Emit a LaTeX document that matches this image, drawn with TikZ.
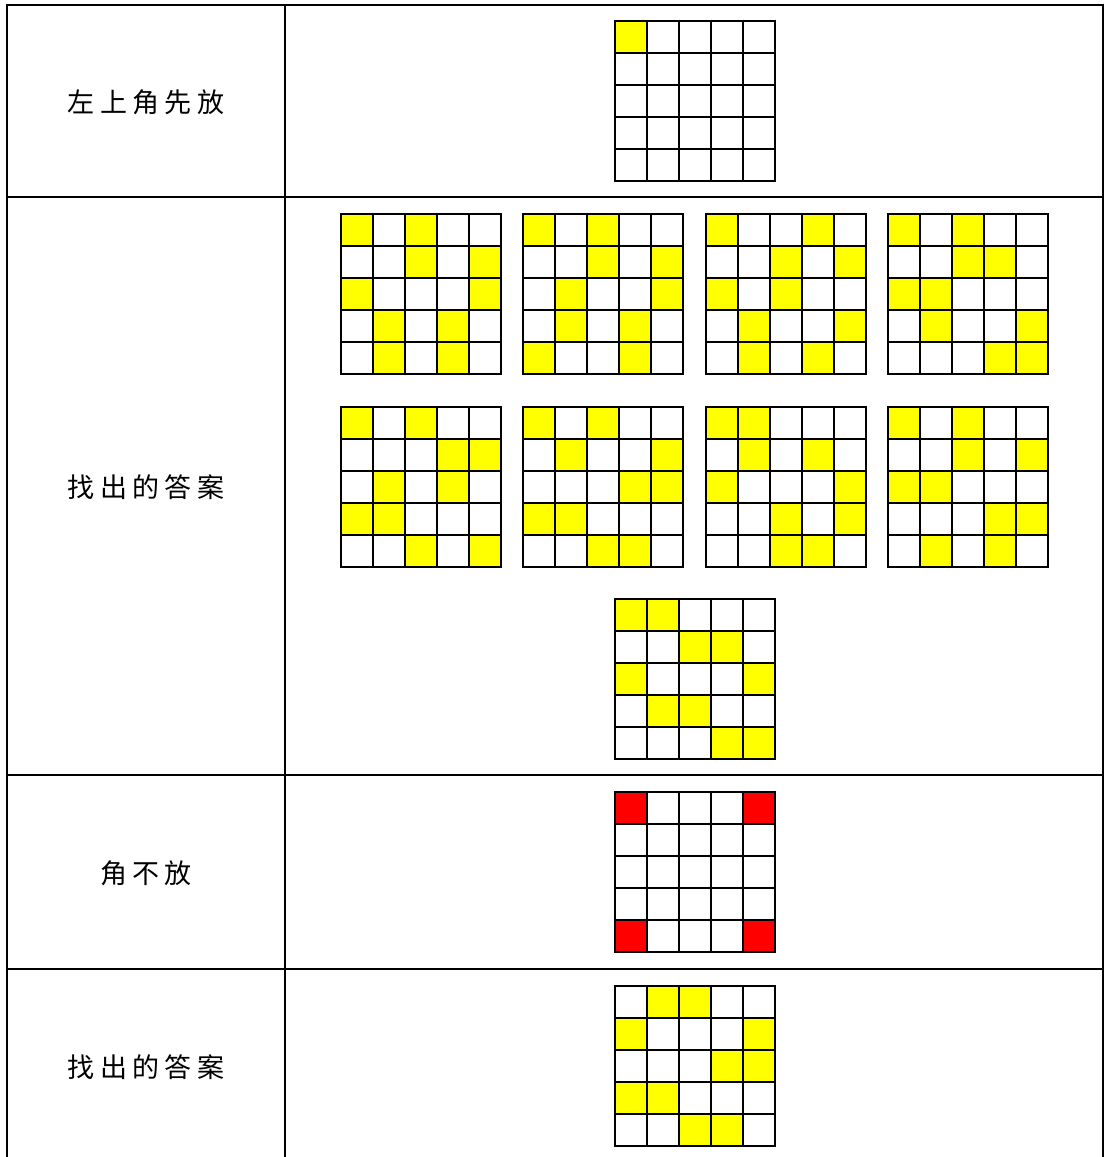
\documentclass[tikz,border=0pt]{standalone}
\usepackage{fontspec}
\newfontfamily\cjk[LetterSpace=20]{Noto Sans CJK SC}
\tikzset{
  tline/.style={line width=2.2pt, black, line cap=rect},
  gline/.style={line width=2.6pt, black, line cap=rect},
  lbl/.style={font=\cjk\fontsize{27}{30}\selectfont, inner sep=0pt},
}
\definecolor{cyel}{RGB}{255,255,0}
\definecolor{cred}{RGB}{255,0,0}
\newcommand\drawgrid[4]{%
  \foreach \r/\c in {#4} {\fill[#3] ({#1+(\c-1)*32},{#2+(\r-1)*32}) rectangle ++(32,32);}
  \foreach \i in {0,...,5} {%
    \draw[gline] ({#1+\i*32},#2) -- ++(0,160);
    \draw[gline] (#1,{#2+\i*32}) -- ++(160,0);
  }
}
\begin{document}
\begin{tikzpicture}[x=1pt,y=-1pt]
\useasboundingbox (0,0) rectangle (1104,1157);
\fill[white] (0,0) rectangle (1104,1157);
% table
\draw[tline] (7,1170) -- (7,5) -- (1103,5) -- (1103,1170);
\draw[tline] (285,5) -- (285,1170);
\draw[tline] (7,197) -- (1103,197);
\draw[tline] (7,775) -- (1103,775);
\draw[tline] (7,969) -- (1103,969);
% labels
\node[lbl] (t1) at (146,102) {左上角先放};
\node[lbl] (t2) at (146,487) {找出的答案};
\node[lbl] (t3) at (146,873) {角不放};
\node[lbl] (t4) at (146,1067) {找出的答案};
% row 1
\drawgrid{615}{21}{cyel}{1/1}
% row 2
\drawgrid{341}{214}{cyel}{1/1,1/3,2/3,2/5,3/1,3/5,4/2,4/4,5/2,5/4}
\drawgrid{523}{214}{cyel}{1/1,1/3,2/3,2/5,3/2,3/5,4/2,4/4,5/1,5/4}
\drawgrid{706}{214}{cyel}{1/1,1/4,2/3,2/5,3/1,3/3,4/2,4/5,5/2,5/4}
\drawgrid{888}{214}{cyel}{1/1,1/3,2/3,2/4,3/1,3/2,4/2,4/5,5/4,5/5}
\drawgrid{341}{407}{cyel}{1/1,1/3,2/4,2/5,3/2,3/4,4/1,4/2,5/3,5/5}
\drawgrid{523}{407}{cyel}{1/1,1/3,2/2,2/5,3/4,3/5,4/1,4/2,5/3,5/4}
\drawgrid{706}{407}{cyel}{1/1,1/2,2/2,2/4,3/1,3/5,4/3,4/5,5/3,5/4}
\drawgrid{888}{407}{cyel}{1/1,1/3,2/3,2/5,3/1,3/2,4/4,4/5,5/2,5/4}
\drawgrid{615}{599}{cyel}{1/1,1/2,2/3,2/4,3/1,3/5,4/2,4/3,5/4,5/5}
% row 3
\drawgrid{615}{792}{cred}{1/1,1/5,5/1,5/5}
% row 4
\drawgrid{615}{986}{cyel}{1/2,1/3,2/1,2/5,3/4,3/5,4/1,4/2,5/3,5/4}
\end{tikzpicture}
\end{document}
